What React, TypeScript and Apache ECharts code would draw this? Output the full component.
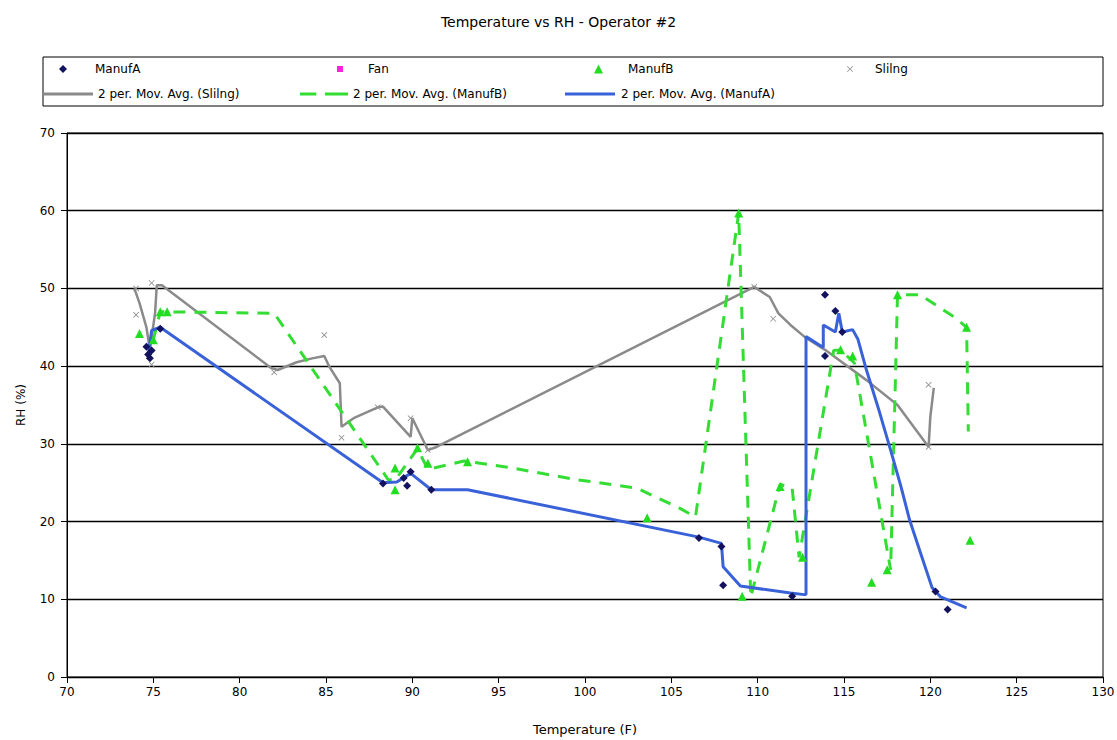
import React, { useEffect, useRef } from "react";
import * as echarts from "echarts";

const titleText = "Temperature vs RH - Operator #2";
const xName = "Temperature (F)";
const yName = "RH (%)";

const manufA: [number, number][] = [
  [74.6, 42.5], [74.7, 41.5], [74.8, 41.0], [74.9, 42.0], [75.4, 44.8],
  [88.3, 24.9], [89.5, 25.6], [89.7, 24.6], [89.9, 26.4], [91.1, 24.1],
  [106.6, 17.9], [107.9, 16.8], [108.0, 11.8], [112.0, 10.4],
  [113.9, 49.2], [114.5, 47.1], [113.9, 41.3], [114.9, 44.4],
  [120.3, 11.0], [121.0, 8.7],
];

const fan: [number, number][] = [];

const manufB: [number, number][] = [
  [74.2, 44.2], [75.0, 43.4], [75.4, 47.0], [75.8, 47.0],
  [89.0, 26.9], [89.0, 24.1], [90.3, 29.5], [90.9, 27.5], [93.2, 27.7],
  [103.6, 20.5], [108.9, 59.7], [109.1, 10.4], [111.3, 24.5], [112.6, 15.4],
  [114.8, 42.1], [115.5, 41.3], [116.6, 12.2], [117.5, 13.8], [118.1, 49.2],
  [122.1, 45.0], [122.3, 17.6],
];

const slilng: [number, number][] = [
  [74.0, 50.0], [74.0, 46.6], [74.9, 50.7], [74.9, 40.2], [82.0, 39.2],
  [84.9, 44.0], [85.9, 30.8], [88.0, 34.7], [89.9, 33.3], [90.9, 29.2],
  [109.8, 50.2], [110.9, 46.1], [119.9, 37.6], [119.9, 29.6],
];

const maSlilng: [number, number][] = [
  [73.9, 50.0], [74.2, 48.1], [74.6, 45.0], [74.8, 42.1], [75.1, 46.8],
  [75.2, 50.4], [75.5, 50.4], [81.8, 39.8], [82.2, 39.5], [83.3, 40.5],
  [84.2, 41.0], [84.9, 41.3], [85.2, 39.9], [85.8, 37.8], [85.9, 32.2],
  [86.6, 33.3], [88.0, 34.7], [88.3, 34.8], [89.9, 30.9], [90.0, 33.3],
  [90.9, 29.2], [91.4, 29.6], [109.8, 50.2], [110.7, 48.9], [111.2, 46.8],
  [111.9, 45.3], [112.7, 43.8], [113.9, 42.1], [116.3, 38.2], [118.1, 35.0],
  [119.9, 29.6], [120.0, 33.5], [120.2, 37.2],
];

const maManufB: [number, number][] = [
  [75.0, 43.4], [75.4, 47.0], [82.0, 46.8], [88.6, 25.4], [89.0, 25.3],
  [90.3, 29.4], [90.9, 26.7], [93.0, 27.8], [95.5, 27.0], [99.5, 25.4],
  [103.0, 24.3], [105.5, 21.7], [106.4, 20.6], [108.9, 59.7], [109.6, 10.3],
  [111.3, 24.8], [112.0, 24.3], [112.4, 15.4], [114.4, 42.0], [114.8, 42.1],
  [115.6, 40.4], [117.7, 13.8], [118.1, 49.2], [119.4, 49.2], [121.4, 46.3],
  [122.1, 45.0], [122.2, 31.6],
];

const maManufA: [number, number][] = [
  [74.7, 41.2], [74.9, 44.6], [75.4, 45.0], [88.3, 25.0], [89.1, 25.1],
  [89.9, 26.2], [91.1, 24.1], [93.2, 24.1], [106.6, 18.0], [107.9, 17.2],
  [108.0, 14.2], [109.0, 11.7], [111.9, 10.8], [112.7, 10.6], [112.8, 10.6],
  [112.8, 43.8], [113.8, 42.4], [113.8, 45.3], [114.5, 44.4], [114.7, 46.8],
  [114.9, 44.4], [115.5, 44.7], [115.8, 43.5], [116.3, 39.5], [117.0, 34.5],
  [117.7, 29.2], [118.3, 24.5], [118.8, 20.2], [119.5, 15.5], [120.1, 11.5],
  [120.6, 10.3], [122.1, 8.9],
];

const FONT = "DejaVu Sans";
const crossPath =
  "path://M0,1L1,0L5,4L9,0L10,1L6,5L10,9L9,10L5,6L1,10L0,9L4,5Z";
const solidIcon = "path://M0,0H50V3H0Z";
const dashIcon = "path://M0,0H17V3H0ZM26,0H50V3H26Z";

const COLORS = {
  manufA: "#12125e",
  fan: "#ff22dd",
  manufB: "#22dd22",
  slilng: "#909090",
  maSlilng: "#8a8a8a",
  maManufB: "#33dd33",
  maManufA: "#3a62d8",
};

function legendItem(
  name: string,
  icon: string,
  left: number,
  top: number,
  itemWidth: number,
  itemHeight: number,
  textPad: number
) {
  return {
    data: [{ name, icon }],
    left,
    top,
    padding: 0,
    itemWidth,
    itemHeight,
    selectedMode: false,
    textStyle: {
      fontFamily: FONT,
      fontSize: 12,
      color: "#000",
      padding: [0, 0, 0, textPad],
    },
  };
}

export default function App() {
  const ref = useRef<HTMLDivElement>(null);
  useEffect(() => {
    const chart = echarts.init(ref.current!, null, { renderer: "svg" });
    chart.setOption({
      animation: false,
      backgroundColor: "#fff",
      title: {
        text: titleText,
        left: "center",
        top: 10,
        textStyle: { fontFamily: FONT, fontSize: 14, fontWeight: "normal", color: "#000" },
      },
      legend: [
        legendItem("ManufA", "diamond", 59, 63, 8, 8, 23),
        legendItem("Fan", "rect", 337, 63, 6, 6, 20),
        legendItem("ManufB", "triangle", 594, 63, 9, 9, 20),
        legendItem("Slilng", crossPath, 847, 63, 6, 6, 17),
        legendItem("2 per. Mov. Avg. (Slilng)", solidIcon, 43, 88, 50, 3, 0),
        legendItem("2 per. Mov. Avg. (ManufB)", dashIcon, 300, 88, 48, 3, 0),
        legendItem("2 per. Mov. Avg. (ManufA)", solidIcon, 565, 88, 52, 3, 0),
      ],
      graphic: [
        {
          type: "rect",
          shape: { x: 43, y: 57, width: 1060, height: 49 },
          style: { fill: "none", stroke: "#000", lineWidth: 1 },
          silent: true,
        },
      ],
      grid: {
        left: 67,
        top: 133,
        right: 14,
        bottom: 63,
        show: true,
        borderColor: "#000",
        borderWidth: 1,
        backgroundColor: "transparent",
        outerBoundsMode: "none",
        containLabel: false,
      },
      xAxis: {
        type: "value",
        min: 70,
        max: 130,
        interval: 5,
        name: xName,
        nameLocation: "middle",
        nameGap: 46,
        nameTextStyle: { fontFamily: FONT, fontSize: 13, color: "#000" },
        axisLine: { show: true, onZero: false, lineStyle: { color: "#000", width: 1 } },
        axisTick: { show: true, length: 6, lineStyle: { color: "#000" } },
        axisLabel: { fontFamily: FONT, fontSize: 12, color: "#000", margin: 9 },
        splitLine: { show: false },
      },
      yAxis: {
        type: "value",
        min: 0,
        max: 70,
        interval: 10,
        name: yName,
        nameLocation: "middle",
        nameGap: 40,
        nameRotate: 90,
        nameTextStyle: { fontFamily: FONT, fontSize: 12, color: "#000" },
        axisLine: { show: true, lineStyle: { color: "#000", width: 1 } },
        axisTick: { show: true, length: 6, lineStyle: { color: "#000" } },
        axisLabel: { fontFamily: FONT, fontSize: 12, color: "#000", margin: 12 },
        splitLine: { show: true, lineStyle: { color: "#000", width: 1.3 } },
      },
      series: [
        {
          name: "2 per. Mov. Avg. (Slilng)",
          type: "line",
          data: maSlilng,
          symbol: "none",
          lineStyle: { color: COLORS.maSlilng, width: 2.5 },
          itemStyle: { color: COLORS.maSlilng },
          z: 3,
        },
        {
          name: "2 per. Mov. Avg. (ManufB)",
          type: "line",
          data: maManufB,
          symbol: "none",
          lineStyle: { color: COLORS.maManufB, width: 3, type: [12, 9] },
          itemStyle: { color: COLORS.maManufB },
          z: 3,
        },
        {
          name: "2 per. Mov. Avg. (ManufA)",
          type: "line",
          data: maManufA,
          symbol: "none",
          lineStyle: { color: COLORS.maManufA, width: 3 },
          itemStyle: { color: COLORS.maManufA },
          z: 3,
        },
        {
          name: "ManufA",
          type: "scatter",
          data: manufA,
          symbol: "diamond",
          symbolSize: 8,
          itemStyle: { color: COLORS.manufA, opacity: 1 },
          z: 4,
        },
        {
          name: "Fan",
          type: "scatter",
          data: fan,
          symbol: "rect",
          symbolSize: 7,
          itemStyle: { color: COLORS.fan, opacity: 1 },
          z: 4,
        },
        {
          name: "ManufB",
          type: "scatter",
          data: manufB,
          symbol: "triangle",
          symbolSize: 9,
          itemStyle: { color: COLORS.manufB, opacity: 1 },
          z: 4,
        },
        {
          name: "Slilng",
          type: "scatter",
          data: slilng,
          symbol: crossPath,
          symbolSize: 6,
          itemStyle: { color: COLORS.slilng, opacity: 1 },
          z: 4,
        },
      ],
    });
    return () => chart.dispose();
  }, []);
  return (
    <div
      ref={ref}
      style={{ position: "absolute", left: 0, top: 0, width: 1117, height: 740 }}
    />
  );
}
